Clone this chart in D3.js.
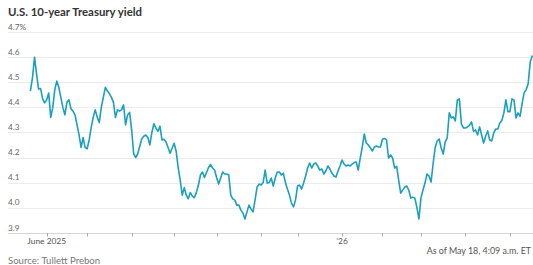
<!DOCTYPE html>
<html><head><meta charset="utf-8">
<script src="https://cdn.jsdelivr.net/npm/d3@7"></script>
<style>
html,body{margin:0;padding:0;background:#fff;}
svg{display:block;font-family:Lato,"Open Sans",sans-serif;}
</style></head>
<body><svg id="c" width="533" height="265"></svg>
<script>
const title = "U.S. 10-year Treasury yield";
const source = "Source: Tullett Prebon";
const asOf = "As of May 18, 4:09 a.m. ET";
const yTicks = [3.9, 4.0, 4.1, 4.2, 4.3, 4.4, 4.5, 4.6, 4.7];
const xTickLabels = {"2025-06": "June 2025", "2026-01": "\u201926"};

// Bond-market trading days (one per observation)
const dates = [
"2025-05-20","2025-05-21","2025-05-22","2025-05-23","2025-05-27","2025-05-28","2025-05-29","2025-05-30",
"2025-06-02","2025-06-03","2025-06-04","2025-06-05","2025-06-06","2025-06-09","2025-06-10","2025-06-11","2025-06-12","2025-06-13","2025-06-16","2025-06-17","2025-06-18","2025-06-20","2025-06-23","2025-06-24","2025-06-25","2025-06-26","2025-06-27","2025-06-30",
"2025-07-01","2025-07-02","2025-07-03","2025-07-07","2025-07-08","2025-07-09","2025-07-10","2025-07-11","2025-07-14","2025-07-15","2025-07-16","2025-07-17","2025-07-18","2025-07-21","2025-07-22","2025-07-23","2025-07-24","2025-07-25","2025-07-28","2025-07-29","2025-07-30","2025-07-31",
"2025-08-01","2025-08-04","2025-08-05","2025-08-06","2025-08-07","2025-08-08","2025-08-11","2025-08-12","2025-08-13","2025-08-14","2025-08-15","2025-08-18","2025-08-19","2025-08-20","2025-08-21","2025-08-22","2025-08-25","2025-08-26","2025-08-27","2025-08-28","2025-08-29",
"2025-09-02","2025-09-03","2025-09-04","2025-09-05","2025-09-08","2025-09-09","2025-09-10","2025-09-11","2025-09-12","2025-09-15","2025-09-16","2025-09-17","2025-09-18","2025-09-19","2025-09-22","2025-09-23","2025-09-24","2025-09-25","2025-09-26","2025-09-29","2025-09-30",
"2025-10-01","2025-10-02","2025-10-03","2025-10-06","2025-10-07","2025-10-08","2025-10-09","2025-10-10","2025-10-14","2025-10-15","2025-10-16","2025-10-17","2025-10-20","2025-10-21","2025-10-22","2025-10-23","2025-10-24","2025-10-27","2025-10-28","2025-10-29","2025-10-30","2025-10-31",
"2025-11-03","2025-11-04","2025-11-05","2025-11-06","2025-11-07","2025-11-10","2025-11-12","2025-11-13","2025-11-14","2025-11-17","2025-11-18","2025-11-19","2025-11-20","2025-11-21","2025-11-24","2025-11-25","2025-11-26","2025-11-28",
"2025-12-01","2025-12-02","2025-12-03","2025-12-04","2025-12-05","2025-12-08","2025-12-09","2025-12-10","2025-12-11","2025-12-12","2025-12-15","2025-12-16","2025-12-17","2025-12-18","2025-12-19","2025-12-22","2025-12-23","2025-12-24","2025-12-26","2025-12-29","2025-12-30","2025-12-31",
"2026-01-02","2026-01-05","2026-01-06","2026-01-07","2026-01-08","2026-01-09","2026-01-12","2026-01-13","2026-01-14","2026-01-15","2026-01-16","2026-01-20","2026-01-21","2026-01-22","2026-01-23","2026-01-26","2026-01-27","2026-01-28","2026-01-29","2026-01-30",
"2026-02-02","2026-02-03","2026-02-04","2026-02-05","2026-02-06","2026-02-09","2026-02-10","2026-02-11","2026-02-12","2026-02-13","2026-02-17","2026-02-18","2026-02-19","2026-02-20","2026-02-23","2026-02-24","2026-02-25","2026-02-26","2026-02-27",
"2026-03-02","2026-03-03","2026-03-04","2026-03-05","2026-03-06","2026-03-09","2026-03-10","2026-03-11","2026-03-12","2026-03-13","2026-03-16","2026-03-17","2026-03-18","2026-03-19","2026-03-20","2026-03-23","2026-03-24","2026-03-25","2026-03-26","2026-03-27","2026-03-30","2026-03-31",
"2026-04-01","2026-04-02","2026-04-03","2026-04-06","2026-04-07","2026-04-08","2026-04-09","2026-04-10","2026-04-13","2026-04-14","2026-04-15","2026-04-16","2026-04-17","2026-04-20","2026-04-21","2026-04-22","2026-04-23","2026-04-24","2026-04-27","2026-04-28","2026-04-29","2026-04-30",
"2026-05-01","2026-05-04","2026-05-05","2026-05-06","2026-05-07","2026-05-08","2026-05-11","2026-05-12","2026-05-13","2026-05-14","2026-05-15","2026-05-18"
];

const yields = [
4.468,4.52,4.60,4.533,4.473,4.475,4.434,4.418,
4.43,4.457,4.36,4.40,4.47,4.505,4.48,4.44,4.40,4.37,4.42,4.43,4.395,4.385,4.37,4.33,4.29,4.24,4.28,4.24,
4.235,4.27,4.32,4.36,4.39,4.36,4.34,4.40,4.44,4.48,4.465,4.455,4.44,4.42,4.36,4.39,4.385,4.39,4.41,4.33,4.37,4.38,
4.31,4.215,4.20,4.215,4.245,4.275,4.285,4.29,4.28,4.25,4.30,4.335,4.317,4.305,4.325,4.27,4.273,4.262,4.24,4.217,4.237,
4.257,4.225,4.16,4.11,4.05,4.08,4.05,4.035,4.06,4.046,4.04,4.06,4.09,4.13,4.142,4.12,4.14,4.16,4.172,4.158,4.15,
4.12,4.094,4.118,4.142,4.134,4.134,4.13,4.05,4.035,4.03,4.01,4.01,3.99,3.979,3.955,3.983,4.01,3.995,3.983,4.03,4.082,4.094,
4.09,4.10,4.15,4.098,4.10,4.118,4.086,4.118,4.142,4.142,4.13,4.138,4.10,4.074,4.05,4.018,4.003,4.03,
4.086,4.09,4.074,4.098,4.126,4.158,4.178,4.158,4.174,4.178,4.166,4.15,4.154,4.134,4.146,4.166,4.154,4.138,4.126,4.122,4.146,4.166,
4.19,4.174,4.166,4.17,4.166,4.174,4.18,4.182,4.15,4.198,4.242,4.294,4.258,4.25,4.238,4.226,4.242,4.246,4.242,4.242,
4.274,4.276,4.27,4.198,4.21,4.198,4.158,4.165,4.11,4.058,4.07,4.082,4.086,4.07,4.038,4.042,4.038,4.0,3.955,
4.038,4.07,4.098,4.134,4.126,4.102,4.174,4.238,4.266,4.274,4.238,4.214,4.262,4.278,4.378,4.358,4.362,4.346,4.43,4.434,4.334,4.318,
4.318,4.322,4.328,4.342,4.304,4.31,4.29,4.322,4.29,4.258,4.286,4.306,4.27,4.266,4.298,4.314,4.314,4.338,4.348,4.378,4.43,4.383,
4.383,4.434,4.43,4.358,4.378,4.364,4.414,4.458,4.47,4.494,4.58,4.605
];

const data = dates.map((d, i) => ({date: d, value: yields[i]}));

const svg = d3.select("#c");
const W = 533;
const x = d3.scalePoint().domain(dates).range([30.5, 532.2]);
const y = d3.scaleLinear().domain([3.9, 4.7]).range([232.7, 32.2]);

// title
svg.append("text").attr("x", 8).attr("y", 16)
  .attr("font-size", 11.4).attr("font-weight", 700).attr("fill", "#333")
  .text(title);

// gridlines + y labels
const g = svg.append("g");
g.selectAll("line.grid").data(yTicks).join("line")
  .attr("x1", 8).attr("x2", W)
  .attr("y1", d => Math.round(y(d)) + 0.5).attr("y2", d => Math.round(y(d)) + 0.5)
  .attr("stroke", d => d === 3.9 ? "#d6d6d6" : "#ececec").attr("stroke-width", 1);
g.selectAll("text.yl").data(yTicks).join("text")
  .attr("x", 8).attr("y", d => y(d) - 2.2)
  .attr("font-size", 8.2).attr("fill", "#666")
  .text((d, i) => d.toFixed(1) + (i === yTicks.length - 1 ? "%" : ""));

// x ticks at first trading day of each month
const firstOfMonth = dates.filter((d, i) => i > 0 && d.slice(0, 7) !== dates[i - 1].slice(0, 7));
svg.selectAll("line.xt").data(firstOfMonth).join("line")
  .attr("x1", d => Math.round(x(d)) + 0.5).attr("x2", d => Math.round(x(d)) + 0.5)
  .attr("y1", 233).attr("y2", 236.5)
  .attr("stroke", "#aaa").attr("stroke-width", 1);
svg.selectAll("text.xl").data(firstOfMonth.filter(d => xTickLabels[d.slice(0, 7)])).join("text")
  .attr("x", d => x(d)).attr("y", 243.5).attr("text-anchor", "middle")
  .attr("font-size", 8.4).attr("fill", "#555")
  .text(d => xTickLabels[d.slice(0, 7)]);

// line
const line = d3.line().x(d => x(d.date)).y(d => y(d.value)).curve(d3.curveLinear);
svg.append("path").datum(data)
  .attr("d", line).attr("fill", "none")
  .attr("stroke", "#1aa0ba").attr("stroke-width", 1.6)
  .attr("stroke-linejoin", "round").attr("stroke-linecap", "round");

// footer
svg.append("text").attr("x", 531).attr("y", 253.5).attr("text-anchor", "end")
  .attr("font-size", 8.9).attr("fill", "#555").text(asOf);
svg.append("text").attr("x", 8).attr("y", 263.5).attr("font-size", 9.6)
  .attr("fill", "#777").text(source);
</script>
</body></html>
